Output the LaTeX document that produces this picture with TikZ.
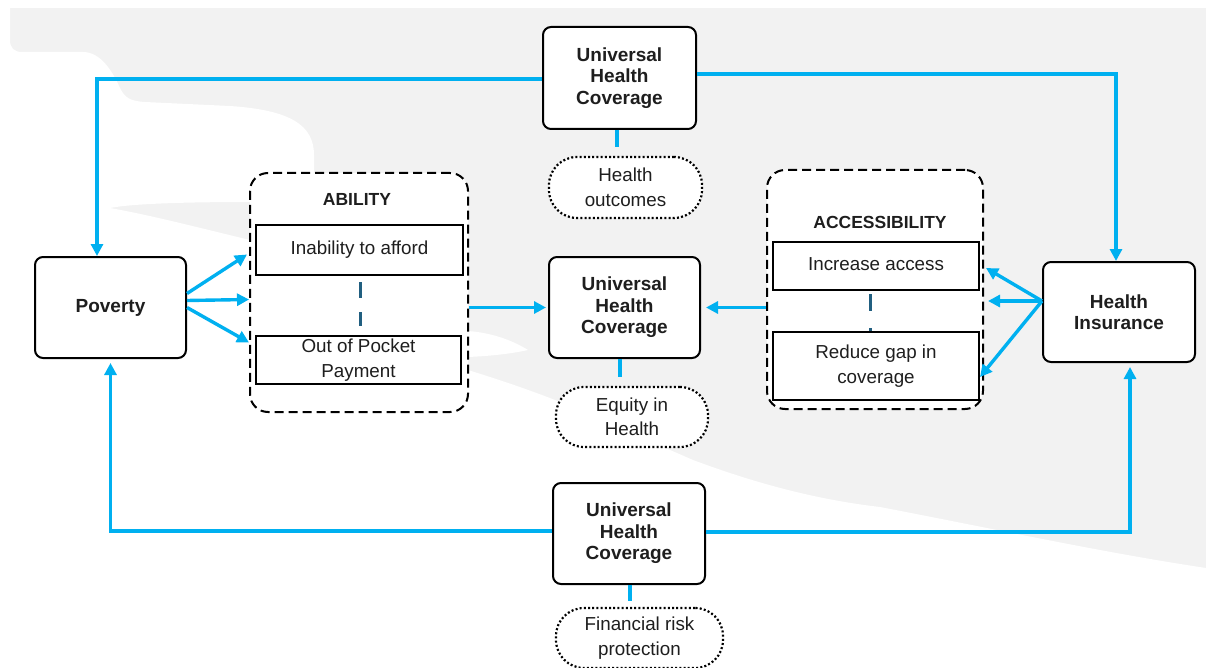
\documentclass[tikz,border=0pt]{standalone}
\usepackage{fontspec}
\setmainfont{Liberation Sans}
\usetikzlibrary{arrows.meta}
\definecolor{ublue}{HTML}{00B0F0}
\definecolor{bggray}{HTML}{F2F2F2}
\definecolor{dteal}{HTML}{215F80}
\definecolor{txt}{HTML}{1E1E1E}
\begin{document}
\begin{tikzpicture}[x=1pt,y=-1pt,
  box/.style={draw=black, line width=2pt, rounded corners=8pt, fill=white, align=center, inner sep=0pt, text=txt, font=\fontsize{19}{21.5}\selectfont\bfseries},
  pill/.style={draw=black, line width=2.2pt, dash pattern=on 2pt off 2.2pt, rounded corners=28pt, fill=white, align=center, inner sep=0pt, text=txt, font=\fontsize{18.8}{24.5}\selectfont},
  groupbox/.style={draw=black, line width=2pt, dash pattern=on 9pt off 5pt, rounded corners=18pt, fill=white, inner sep=0pt},
  itembox/.style={draw=black, line width=2pt, fill=white, align=center, inner sep=0pt, text=txt, font=\fontsize{18.8}{24.5}\selectfont},
  gtitle/.style={inner sep=0pt, text=txt, font=\fontsize{17.5}{20}\selectfont\bfseries},
  arr/.style={draw=ublue, line width=3.4pt, -{Triangle[length=12pt,width=12pt]}},
  ln/.style={draw=ublue, line width=3.6pt},
  tealdash/.style={draw=dteal, line width=3pt}
]
\useasboundingbox (0,0) rectangle (1206,668);
% background
\fill[bggray] (0,8) rectangle (1206,668);
\fill[white] (0,8) -- (10,8) -- (10,40) .. controls (10,48) and (14,52) .. (22,52) -- (83,52)
  .. controls (100,52) and (112,70) .. (120,88) .. controls (125,98) and (130,101) .. (145,102)
  -- (230,106) .. controls (290,110) and (314,125) .. (314,155) -- (314,200) -- (250,202)
  .. controls (180,202) and (130,204) .. (110,208) .. controls (150,215) and (200,228) .. (250,240)
  -- (468,370) .. controls (500,380) and (530,390) .. (560,402) -- (693,460)
  .. controls (760,485) and (820,500) .. (880,507) .. controls (1000,530) and (1100,552) .. (1206,568)
  -- (1206,668) -- (0,668) -- cycle;
\fill[white] (468,331) .. controls (495,333) and (515,342) .. (528,350) .. controls (510,354) and (490,356) .. (468,357) -- cycle;

% group boxes
\node[groupbox, minimum width=218pt, minimum height=239pt] (abil) at (359,292.5) {};
\node[groupbox, minimum width=216pt, minimum height=239pt] (acc) at (875,289.5) {};
\node[gtitle] (abilt) at (357,199) {ABILITY};
\node[gtitle] (acct) at (880,222) {ACCESSIBILITY};
\node[itembox, minimum width=207pt, minimum height=50pt] (ia) at (359.5,250) {Inability to afford\vphantom{y}};
\node[itembox, minimum width=205pt, minimum height=48pt] (oop) at (358.5,360) {Out of Pocket\\Payment};
\node[itembox, minimum width=206pt, minimum height=48pt] (inc) at (876,266) {Increase access\vphantom{y}};
\node[itembox, minimum width=206pt, minimum height=68pt] (red) at (876,366) {Reduce gap in\\coverage};

% main boxes
\node[box, minimum width=153pt, minimum height=102pt] (uhcT) at (619.5,78) {Universal\\Health\\Coverage};
\node[box, minimum width=151pt, minimum height=101pt] (uhcM) at (624.5,307.5) {Universal\\Health\\Coverage};
\node[box, minimum width=152pt, minimum height=101pt] (uhcB) at (629,533.5) {Universal\\Health\\Coverage};
\node[box, minimum width=151pt, minimum height=101pt] (pov) at (110.5,307.5) {Poverty};
\node[box, minimum width=152pt, minimum height=100pt] (hi) at (1119,312) {Health\\Insurance};
\node[pill, minimum width=153pt, minimum height=61pt] (ho) at (625.5,187.5) {Health\\outcomes};
\node[pill, minimum width=152pt, minimum height=60pt] (eq) at (632,417) {Equity in\\Health};
\node[pill, minimum width=167pt, minimum height=60pt] (frp) at (639.5,638) {Financial risk\\protection};

% teal dashed links
\draw[tealdash, dash pattern=on 16pt off 14pt, shorten <=6pt, shorten >=9pt] ([xshift=0.5pt]ia.south) -- ([xshift=1.5pt]oop.north);
\draw[tealdash, dash pattern=on 17pt off 17pt, shorten <=3pt] ([xshift=-6pt]inc.south) -- ([xshift=-6pt]red.north);

% short links
\draw[ln, shorten >=9pt] ([xshift=-2.5pt]uhcT.south) -- ([xshift=-2.5pt]uhcT.south |- ho.north);
\draw[ln, shorten >=9pt] ([xshift=-4.5pt]uhcM.south) -- ([xshift=-4.5pt]uhcM.south |- eq.north);
\draw[ln, shorten >=6pt] ([xshift=1pt]uhcB.south) -- ([xshift=1pt]uhcB.south |- frp.north);

% loops
\draw[arr] ([yshift=-1pt]uhcT.west) -| ([xshift=-13.5pt]pov.north);
\draw[arr] ([yshift=4pt]uhcT.east) -| ([xshift=-3pt]hi.north);
\draw[arr, shorten >=4pt] ([yshift=2.5pt]uhcB.west) -| (pov.south);
\draw[arr, shorten >=4pt] ([yshift=1.5pt]uhcB.east) -| ([xshift=11pt]hi.south);

% Poverty fan
\draw[arr] ([yshift=14pt]pov.east) -- ([xshift=-2pt,yshift=38pt]abil.west);
\draw[arr] ([yshift=7pt]pov.east) -- ([yshift=-7pt]abil.west);
\draw[arr] ([yshift=0pt]pov.east) -- ([yshift=-50pt]abil.west);
% to middle UHC
\draw[arr] (abil.east |- uhcM.west) -- ([xshift=-2pt]uhcM.west);
\draw[arr, shorten >=5pt] (acc.west |- uhcM.east) -- (uhcM.east);
% Health insurance fan
\draw[arr] ([yshift=11pt]hi.west) -- ([xshift=2pt,yshift=21.5pt]acc.east);
\draw[arr] ([yshift=11pt]hi.west) -- ([xshift=4pt,yshift=-11.5pt]acc.east);
\draw[arr] ([yshift=11pt]hi.west) -- ([xshift=-4pt,yshift=-87.5pt]acc.east);
\end{tikzpicture}
\end{document}
